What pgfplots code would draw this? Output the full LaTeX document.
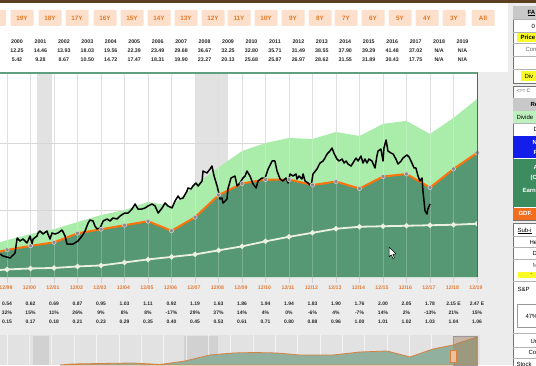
\documentclass[border=0pt]{standalone}
\usepackage{pgfplots}
\pgfplotsset{compat=1.18}
\usepackage{fontspec}
\setmainfont{Liberation Sans}
\definecolor{dkg}{RGB}{86,152,116}
\definecolor{ltg}{RGB}{170,236,170}
\definecolor{org}{RGB}{255,115,10}
\definecolor{divl}{RGB}{236,240,226}
\definecolor{recg}{RGB}{226,226,226}
\definecolor{gridg}{RGB}{214,214,214}
\definecolor{btn}{RGB}{252,224,204}
\definecolor{btntxt}{RGB}{228,120,40}
\definecolor{lbl}{RGB}{226,122,52}
\definecolor{txt}{RGB}{40,40,40}
\definecolor{brn}{RGB}{92,62,32}
\definecolor{frameg}{RGB}{96,160,128}
\definecolor{frameg2}{RGB}{40,130,70}
\definecolor{navbg}{RGB}{226,226,226}
\definecolor{navfill}{RGB}{146,176,158}
\definecolor{navorg}{RGB}{214,130,66}
\definecolor{blu}{RGB}{20,30,235}
\definecolor{pgreen}{RGB}{60,140,95}
\definecolor{porg}{RGB}{240,110,30}
\definecolor{yel}{RGB}{250,250,40}
\definecolor{pgray}{RGB}{200,200,200}
\definecolor{plg}{RGB}{190,240,190}
\definecolor{bgg}{RGB}{236,236,236}
\newcommand\hdf{\fontsize{5.3}{6}\selectfont\bfseries}
\newcommand\lbf{\fontsize{5.2}{6}\selectfont\bfseries}
\newcommand\tabf{\fontsize{5}{6}\selectfont\bfseries}
\newcommand\pf{\fontsize{6}{7}\selectfont}
\begin{document}
\begin{tikzpicture}[x=1pt,y=1pt]
\useasboundingbox (0,0) rectangle (536,365);
\clip (0,0) rectangle (536,365);
\begin{scope}[y=-1pt,yshift=365pt]
  \fill[bgg] (0,0) rectangle (536,365);
  \fill[white] (0,0) rectangle (508,72);
  \fill[brn] (0,0) rectangle (536,3);
  % buttons
  \fill[btn,rounded corners=1pt] (-16,10) rectangle (6,26);
  \node[font=\fontsize{6.3}{7}\selectfont\bfseries,text=btntxt] at (-5,18) {20Y};
  \foreach \lab/\cx in {19Y/22,18Y/50,17Y/77,16Y/105,15Y/132,14Y/159,13Y/186,12Y/213,11Y/239,10Y/266,9Y/293,8Y/320,7Y/346,6Y/373,5Y/400,4Y/427,3Y/454,All/483}{
    \fill[btn,rounded corners=1pt] ({\cx-11.5},10) rectangle ({\cx+11.5},26);
    \node[font=\fontsize{6.3}{7}\selectfont\bfseries,text=btntxt] at (\cx,18) {\lab};
  }
  % header table
  \node[font=\hdf,text=txt] at (-6.5,42) {1999};
  \node[font=\hdf,text=txt] at (-6.5,51) {10.63};
  \node[font=\hdf,text=txt] at (-6.5,60) {5.94};
  \foreach \v [count=\i from 0] in {2000,2001,2002,2003,2004,2005,2006,2007,2008,2009,2010,2011,2012,2013,2014,2015,2016,2017,2018,2019}
    \node[font=\hdf,text=txt] at ({17+23.45*\i},42) {\v};
  \foreach \v [count=\i from 0] in {12.25,14.46,13.93,18.03,19.56,22.39,23.49,29.68,36.67,32.25,32.80,35.71,31.49,38.55,37.90,39.29,41.48,37.02,N/A,N/A}
    \node[font=\hdf,text=txt] at ({17+23.45*\i},51) {\v};
  \foreach \v [count=\i from 0] in {5.42,9.28,8.67,10.50,14.72,17.47,18.31,19.90,23.27,20.13,25.68,25.87,26.97,28.62,31.55,31.89,30.43,17.75,N/A,N/A}
    \node[font=\hdf,text=txt] at ({17+23.45*\i},60) {\v};
  % ticks under chart
  \foreach \i in {0,...,20} \draw[black!18,line width=0.6pt] ({7+23.5*\i},277) -- ({7+23.5*\i},283);
  % bottom labels and rows
  \foreach \v [count=\i from 0] in {12/99,12/00,12/01,12/02,12/03,12/04,12/05,12/06,12/07,12/08,12/09,12/10,12/11,12/12,12/13,12/14,12/15,12/16,12/17,12/18,12/19}
    \node[font=\lbf,text=lbl] at ({6+23.5*\i},288) {\v};
  \foreach \v [count=\i from 0] in {0.54,0.62,0.69,0.87,0.95,1.03,1.11,0.92,1.19,1.63,1.86,1.94,1.94,1.83,1.90,1.76,2.00,2.05,1.78,2.15 E,2.47 E}
    \node[font=\tabf,text=txt] at ({7+23.5*\i},304) {\v};
  \foreach \v [count=\i from 0] in {32\%,15\%,11\%,26\%,9\%,8\%,8\%,-17\%,29\%,37\%,14\%,4\%,0\%,-6\%,4\%,-7\%,14\%,2\%,-13\%,21\%,15\%}
    \node[font=\tabf,text=txt] at ({7+23.5*\i},313) {\v};
  \foreach \v [count=\i from 0] in {0.15,0.17,0.18,0.21,0.23,0.29,0.35,0.40,0.45,0.53,0.61,0.71,0.80,0.88,0.96,1.00,1.01,1.02,1.03,1.04,1.06}
    \node[font=\tabf,text=txt] at ({7+23.5*\i},322) {\v};
\end{scope}

% ===== main chart =====
\begin{axis}[at={(0pt,88pt)},anchor=south west,scale only axis,
  width=477pt,height=204pt,xmin=-0.3,xmax=20,ymin=0,ymax=60.9,
  axis lines=none,xtick=\empty,ytick=\empty]
  \fill[white] (axis cs:-0.3,0) rectangle (axis cs:20,60.9);
  \fill[recg] (axis cs:1.28,0) rectangle (axis cs:1.91,60.9);
  \fill[recg] (axis cs:8.0,0) rectangle (axis cs:9.4,60.9);
  \pgfplotsinvokeforeach{0,...,20}{\draw[gridg,line width=0.9pt] (axis cs:#1,0) -- (axis cs:#1,60.9);}
  \draw[gridg,line width=0.9pt] (axis cs:-0.3,20) -- (axis cs:20,20);
  \draw[gridg,line width=0.9pt] (axis cs:-0.3,40) -- (axis cs:20,40);
  \addplot[fill=ltg,draw=none] coordinates {(-0.3,10.4)(0,11.0)(1,12.8)(2,14.3)(3,16.4)(4,18.5)(5,20.0)(6,22.4)(7,21.2)(8,27.5)(9,32.7)(10,37.6)(11,40.0)(12,41.5)(13,41.2)(14,43.3)(15,42.1)(16,45.7)(17,46.6)(18,42.7)(19,47.5)(20,53.1)} \closedcycle;
  \addplot[fill=dkg,draw=none] coordinates {(-0.3,7.6)(0,8.1)(1,9.3)(2,10.35)(3,13.05)(4,14.25)(5,15.45)(6,16.65)(7,13.8)(8,17.85)(9,24.45)(10,27.9)(11,29.1)(12,29.1)(13,27.45)(14,28.5)(15,26.4)(16,30.0)(17,30.75)(18,26.7)(19,32.25)(20,37.05)} \closedcycle;
  \pgfplotsinvokeforeach{0,...,20}{\draw[white,opacity=0.22,line width=0.8pt] (axis cs:#1,0) -- (axis cs:#1,60.9);}
  \addplot[divl,line width=1.8pt,mark=*,mark indices={2,...,22},mark size=1.6pt,mark options={fill=divl,draw=none}] coordinates {(-0.3,2.1)(0,2.25)(1,2.55)(2,2.7)(3,3.15)(4,3.45)(5,4.35)(6,5.25)(7,6.0)(8,6.75)(9,7.95)(10,9.15)(11,10.65)(12,12.0)(13,13.2)(14,14.4)(15,15.0)(16,15.15)(17,15.3)(18,15.45)(19,15.6)(20,15.9)};
  \addplot[org,line width=2pt,mark=*,mark indices={2,...,22},mark size=2.1pt,mark options={fill=black!45,draw=white!85!black,line width=0.5pt}] coordinates {(-0.3,7.6)(0,8.1)(1,9.3)(2,10.35)(3,13.05)(4,14.25)(5,15.45)(6,16.65)(7,13.8)(8,17.85)(9,24.45)(10,27.9)(11,29.1)(12,29.1)(13,27.45)(14,28.5)(15,26.4)(16,30.0)(17,30.75)(18,26.7)(19,32.25)(20,37.05)};
  \addplot[black,line width=1.5pt,line join=round] coordinates {
(-0.30,6.87)(-0.17,6.27)(0.13,5.67)(0.34,7.16)(0.43,11.64)(0.55,10.75)(0.68,11.34)(0.85,10.15)(0.98,12.24)(1.06,9.85)(1.11,11.34)(1.28,12.24)(1.32,13.13)(1.40,13.73)(1.53,12.84)(1.70,13.73)(1.74,12.84)(1.83,11.34)(1.91,13.13)(2.04,12.84)(2.17,13.13)(2.34,14.03)(2.47,12.24)(2.55,9.85)(2.68,9.85)(2.81,9.85)(3.02,10.75)(3.19,12.24)(3.32,13.73)(3.45,16.12)(3.53,17.01)(3.66,16.72)(3.74,15.22)(3.83,14.33)(3.96,14.63)(4.09,16.72)(4.26,17.31)(4.38,16.72)(4.51,17.61)(4.68,17.31)(4.81,18.21)(4.94,18.81)(5.02,19.10)
(5.15,19.10)(5.32,20.30)(5.45,21.79)(5.57,20.30)(5.74,20.30)(5.87,20.60)(6.00,21.19)(6.17,21.79)(6.30,21.19)(6.43,19.10)(6.60,20.60)(6.72,22.09)(6.85,21.19)(7.02,20.60)(7.15,22.69)(7.28,24.18)(7.36,23.28)(7.49,23.58)(7.66,25.67)(7.70,26.57)(7.83,26.27)(7.91,27.16)(8.04,28.06)(8.13,27.16)(8.30,28.66)(8.34,31.64)(8.51,31.04)(8.64,32.24)(8.72,33.13)(8.81,30.15)(8.94,27.16)(9.02,24.78)(9.06,23.28)(9.15,23.58)(9.19,22.09)(9.28,22.69)(9.36,23.28)(9.40,26.27)(9.53,29.55)(9.70,30.15)(9.79,27.16)(9.91,28.06)(10.04,29.55)(10.13,30.15)
(10.21,31.64)(10.34,30.15)(10.47,27.76)(10.60,26.57)(10.68,28.66)(10.85,29.55)(10.98,29.55)(11.11,32.24)(11.28,34.63)(11.40,34.63)(11.49,31.64)(11.62,29.25)(11.74,28.66)(11.87,29.55)(11.96,28.06)(12.04,30.75)(12.17,30.15)(12.30,30.75)(12.34,29.25)(12.43,30.15)(12.55,29.25)(12.60,30.75)(12.68,28.66)(12.81,28.06)(12.94,27.16)(13.02,30.75)(13.19,32.24)(13.32,34.03)(13.45,34.63)(13.53,35.52)(13.62,36.72)(13.74,37.61)(13.83,38.51)(13.91,37.01)(14.04,35.22)(14.13,34.63)(14.26,35.22)(14.34,34.03)(14.43,34.63)(14.51,33.73)(14.64,33.13)(14.72,34.03)(14.85,35.52)(14.94,34.63)(15.06,36.12)(15.15,34.03)(15.23,35.22)
(15.32,34.03)(15.40,35.22)(15.53,34.63)(15.66,32.54)(15.74,36.12)(15.79,37.61)(15.91,38.21)(16.00,34.63)(16.04,38.51)(16.13,40.90)(16.21,37.61)(16.34,37.01)(16.43,36.72)(16.55,35.22)(16.64,33.73)(16.77,34.63)(16.85,35.52)(17.02,36.42)(17.11,35.82)(17.23,34.03)(17.32,32.54)(17.40,32.54)(17.49,30.15)(17.57,28.66)(17.66,29.55)(17.70,25.67)(17.79,19.70)(17.87,18.81)(17.91,20.30)(18.00,21.79)};
\end{axis}

% ===== navigator =====
\begin{axis}[at={(0pt,0pt)},anchor=south west,scale only axis,
  width=480pt,height=30pt,xmin=0,xmax=480,ymin=0,ymax=30,
  axis lines=none,xtick=\empty,ytick=\empty]
  \fill[navbg] (axis cs:0,0) rectangle (axis cs:480,30);
  \fill[black!18] (axis cs:33,0) rectangle (axis cs:49,29);
  \fill[black!18] (axis cs:184,0) rectangle (axis cs:218,29);
  \pgfplotsinvokeforeach{0,...,20}{\draw[white,opacity=0.6,line width=0.5pt] (axis cs:{7+22.35*#1},0) -- (axis cs:{7+22.35*#1},30);}
  \addplot[fill=navfill,draw=navorg,line width=0.8pt] coordinates {(60,0)(72,1)(100,1.5)(133,2)(160,0.5)(185,4)(210,10)(233,12)(255,12.5)(277,12)(300,10)(333,10)(360,13)(387,14)(410,8)(433,16)(453,20)(477,28)} \closedcycle;
  \fill[brown!60!gray,opacity=0.45] (axis cs:453,0) rectangle (axis cs:477,29);
  \draw[black!40,line width=0.5pt] (axis cs:453,0) rectangle (axis cs:477,29);
  \draw[navorg,fill=navorg!50!white,line width=0.6pt] (axis cs:450,3) rectangle (axis cs:456,15);
\end{axis}

\begin{scope}[y=-1pt,yshift=365pt]
  % chart frame
  \draw[frameg,line width=2pt] (0,73) -- (478,73);
  \draw[frameg2,line width=1.4pt] (477.3,73) -- (477.3,277);
  % mouse cursor
  \draw[black,fill=white,line width=0.5pt,line join=round] (389,247) -- (389,257) -- (391.3,254.8) -- (393,258.5) -- (394.4,257.8) -- (392.8,254.2) -- (396,254) -- cycle;
  % right panel box 1
  \draw[black!55,fill=white,line width=0.8pt] (513,6) rectangle (545,83);
  \fill[pgray] (513.4,6.4) rectangle (545,19);
  \foreach \yy in {19,32,43,56,69} \draw[black!30,line width=0.5pt] (513,\yy) -- (545,\yy);
  \node[anchor=west,font=\pf\bfseries] at (524,13) {\underline{FA}};
  \node[anchor=west,font=\pf] at (528,26) {0};
  \fill[yel] (517,33) rectangle (540,42);
  \node[anchor=west,font=\pf\bfseries] at (517,37.5) {Price};
  \node[anchor=west,font=\pf,text=black!60] at (522,49.5) {Con};
  \node[anchor=west,font=\pf] at (532,62.5) {F};
  \fill[yel] (521,71) rectangle (540,81);
  \node[anchor=west,font=\pf] at (521,76) {Div};
  % box 2
  \draw[black!55,fill=white,line width=0.8pt] (513,86) rectangle (545,220);
  \node[anchor=west,font=\fontsize{5}{6}\selectfont,text=black!70] at (513,91) {<== C};
  \fill[pgray] (513.4,98) rectangle (545,111);
  \node[anchor=west,font=\pf\bfseries] at (527,104.5) {Re};
  \fill[plg] (513.4,111) rectangle (545,123);
  \node[anchor=west,font=\pf] at (513,117) {Divide};
  \draw[black!30,line width=0.5pt] (513,123) -- (545,123);
  \node[anchor=west,font=\pf] at (530,129) {D};
  \fill[blu] (513.4,136) rectangle (545,158);
  \node[anchor=west,font=\pf\bfseries,text=white] at (529,142) {N};
  \node[anchor=west,font=\pf\bfseries,text=white] at (530,152) {R};
  \fill[pgreen] (513.4,159) rectangle (545,207);
  \node[anchor=west,font=\pf\bfseries,text=white] at (530,167) {A};
  \node[anchor=west,font=\pf\bfseries,text=white] at (527,178) {(C};
  \node[anchor=west,font=\pf\bfseries,text=white] at (519,190) {Earn};
  \node[anchor=west,font=\pf\bfseries,text=white] at (533,200) {I};
  \fill[porg] (513.4,208) rectangle (545,219.5);
  \node[anchor=west,font=\pf\bfseries,text=white] at (515,213.5) {GDF.};
  % box 3
  \draw[black!55,fill=white,line width=0.8pt] (513,223) rectangle (545,372);
  \node[anchor=west,font=\pf] at (514,231) {\underline{Sub-i}};
  \foreach \yy in {236,247,259,281,333,347,358} \draw[black!30,line width=0.5pt] (513,\yy) -- (545,\yy);
  \node[anchor=west,font=\pf] at (526,242) {He};
  \node[anchor=west,font=\pf] at (529,253) {D};
  \node[anchor=west,font=\pf,text=black!60] at (529,265) {M};
  \fill[yel] (518,272) rectangle (540,278);
  \node[anchor=west,font=\fontsize{5}{5}\selectfont] at (527,275) {-};
  \node[anchor=west,font=\pf] at (514,289) {S\&P};
  \draw[black!40,line width=0.5pt] (517,304) rectangle (545,327);
  \node[anchor=west,font=\pf] at (522,316) {47\%};
  \node[anchor=west,font=\pf] at (527,341) {Un};
  \node[anchor=west,font=\pf] at (525,352.5) {Con};
  \node[anchor=west,font=\pf] at (513,364) {Stock};
\end{scope}
\end{tikzpicture}
\end{document}
